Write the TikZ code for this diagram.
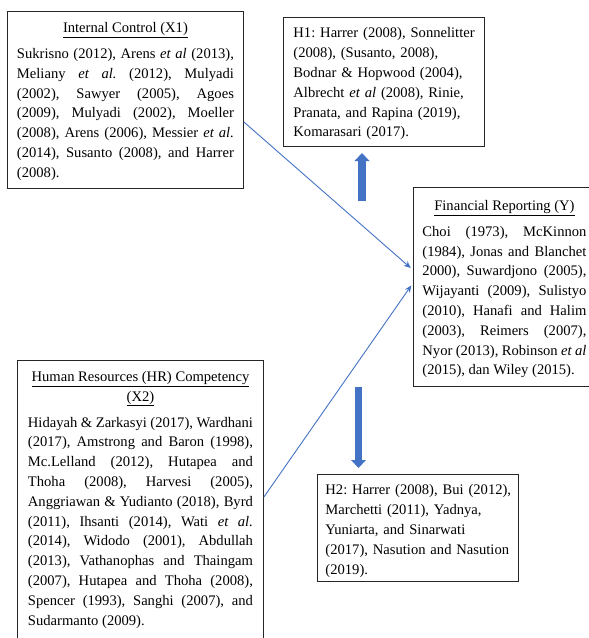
\documentclass[tikz,border=0pt]{standalone}
\usepackage{fontspec}
\setmainfont{Liberation Serif}
\usepackage{xcolor}
\usetikzlibrary{arrows.meta}

\definecolor{linkblue}{HTML}{4472C4}
\definecolor{boxline}{HTML}{262626}
\newcommand{\boxtitle}[2]{\centerline{\rule{0pt}{#1}\underline{#2}}}
\newcommand{\hypstart}[1]{\leftskip=#1\rightskip=0pt plus 1fil\hyphenpenalty=10000\rule{0pt}{20.5pt}}
\frenchspacing

\begin{document}
\begin{tikzpicture}[x=1pt, y=-1pt,
  refbox/.style = {draw=boxline, line width=0.9pt, anchor=north west, inner ysep=0pt,
    align=justify, font=\fontsize{14.6}{19.8}\selectfont\frenchspacing},
  hypbox/.style = {refbox, align=left, text width=199pt, inner xsep=1pt},
  link/.style = {draw=linkblue, line width=0.9pt, shorten >=3pt, -{Stealth[length=7pt,width=6pt]}},
  hyp/.style = {draw=linkblue, line width=7.5pt, -{Triangle[length=8pt,width=15pt,line width=0pt]}}]
\useasboundingbox (0,0) rectangle (589,638);
\clip (0,0) rectangle (589,638);

\node[refbox, text width=217pt, inner xsep=9.5pt] (x1) at (7,11)
  {\boxtitle{21pt}{Internal Control (X1)}\vspace{6.2pt}
   Sukrisno (2012), Arens \textit{et al} (2013),\linebreak
   Meliany \textit{et al.} (2012), Mulyadi\linebreak
   (2002), Sawyer (2005), Agoes\linebreak
   (2009), Mulyadi (2002), Moeller\linebreak
   (2008), Arens (2006), Messier \textit{et al.}\linebreak
   (2014), Susanto (2008), and Harrer\linebreak
   (2008).\rule[-11.2pt]{0pt}{11.2pt}};

\node[refbox, text width=225pt, inner xsep=10.5pt] (x2) at (17,360)
  {\boxtitle{20.8pt}{Human Resources (HR) Competency}
   \centerline{\underline{(X2)}}\vspace{6.2pt}
   Hidayah \& Zarkasyi (2017), Wardhani\linebreak
   (2017), Amstrong and Baron (1998),\linebreak
   Mc.Lelland (2012), Hutapea and\linebreak
   Thoha (2008), Harvesi (2005),\linebreak
   Anggriawan \& Yudianto (2018), Byrd\linebreak
   (2011), Ihsanti (2014), Wati \textit{et al.}\linebreak
   (2014), Widodo (2001), Abdullah\linebreak
   (2013), Vathanophas and Thaingam\linebreak
   (2007), Hutapea and Thoha (2008),\linebreak
   Spencer (1993), Sanghi (2007), and\linebreak
   Sudarmanto (2009).\rule[-40pt]{0pt}{40pt}};

\node[refbox, text width=164pt, inner xsep=9pt] (fr) at (413,187)
  {\boxtitle{22.8pt}{Financial Reporting (Y)}\vspace{6.2pt}
   Choi (1973), McKinnon\linebreak
   (1984), Jonas and Blanchet\linebreak
   2000), Suwardjono (2005),\linebreak
   Wijayanti (2009), Sulistyo\linebreak
   (2010), Hanafi and Halim\linebreak
   (2003), Reimers (2007),\linebreak
   Nyor (2013), Robinson \textit{et al}\linebreak
   (2015), dan Wiley (2015).\rule[-11.6pt]{0pt}{11.6pt}};

\node[hypbox] (h1) at (283,17)
  {\hypstart{9pt}H1: Harrer (2008), Sonnelitter\\
   (2008), (Susanto, 2008),\\
   Bodnar \& Hopwood (2004),\\
   Albrecht \textit{et al} (2008), Rinie,\\
   Pranata, and Rapina (2019),\\
   Komarasari (2017).\rule[-9.5pt]{0pt}{9.5pt}\par};

\node[hypbox] (h2) at (317,474)
  {\hypstart{7pt}H2: Harrer (2008), Bui (2012),\\
   Marchetti (2011), Yadnya,\\
   Yuniarta, and Sinarwati\\
   (2017), Nasution and Nasution\\
   (2019).\rule[-7.3pt]{0pt}{7.3pt}\par};

\coordinate (upfoot) at (362,201);
\coordinate (uptip) at (362,153);
\coordinate (downtop) at (358.5,387);
\coordinate (downtip) at (358.5,468);

\draw[link] (x1.east |- 0,122) -- (fr.west |- 0,270);
\draw[link] (x2.east |- 0,497) -- (fr.west |- 0,283);
\draw[hyp] (upfoot) -- (uptip);
\draw[hyp] (downtop) -- (downtip);
\end{tikzpicture}
\end{document}
